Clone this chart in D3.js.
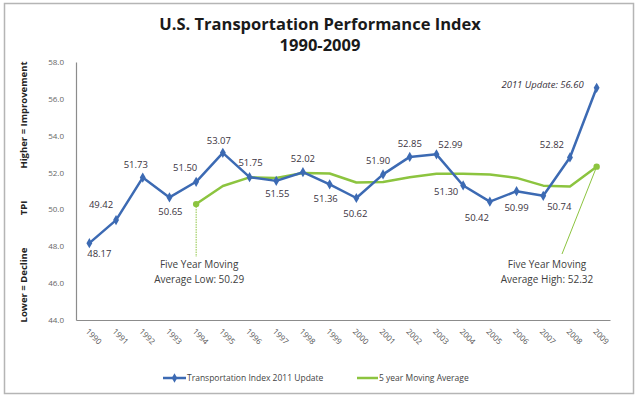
<!DOCTYPE html>
<html><head><meta charset="utf-8">
<script src="https://cdn.jsdelivr.net/npm/d3@7"></script>
<style>
html,body{margin:0;padding:0;background:#fff;}
svg{display:block;font-family:"Open Sans","Liberation Sans",sans-serif;}
</style></head>
<body>
<svg id="chart" width="639" height="399"></svg>
<script>
const years = ["1990","1991","1992","1993","1994","1995","1996","1997","1998","1999","2000","2001","2002","2003","2004","2005","2006","2007","2008","2009"];
const tpi = [48.17,49.42,51.73,50.65,51.50,53.07,51.75,51.55,52.02,51.36,50.62,51.90,52.85,52.99,51.30,50.42,50.99,50.74,52.82,56.60];
const movingAvg = [null,null,null,null,50.29,51.27,51.74,51.70,51.98,51.95,51.46,51.49,51.75,51.94,51.93,51.89,51.71,51.29,51.25,52.32];
const yTicks = [44,46,48,50,52,54,56,58];
const seriesNames = ["Transportation Index 2011 Update","5 year Moving Average"];
// label placement per point: [dx, dy] offset of label centre from point
const labelPlace = [[10,11],[-15,-15],[-7,-13],[1,14],[-11,-14],[-4,-12],[1,-15],[1,13],[0,-14],[-4,14],[-1,16],[-5,-14],[0,-13],[14,-10],[-17,6],[-13,16],[0,16],[16,11],[-18,-13],[0,0]];

const svg = d3.select("#chart");
const blue = "#3c6ab3", green = "#8cc43f";

// frame
svg.append("rect").attr("x",4.5).attr("y",3.5).attr("width",629).attr("height",390)
  .attr("fill","#fff").attr("stroke","#b5b5b5").attr("stroke-width",1.5);

const x = d3.scaleBand().domain(years).range([76,610]);
const y = d3.scaleLinear().domain([44,58]).range([320,62]);
const cx = d => x(d) + x.bandwidth()/2;

// title
svg.append("text").attr("x",320).attr("y",30).attr("text-anchor","middle")
  .attr("font-size",16.5).attr("font-weight","bold").attr("fill","#1a1a1a")
  .text("U.S. Transportation Performance Index");
svg.append("text").attr("x",320).attr("y",51).attr("text-anchor","middle")
  .attr("font-size",16.5).attr("font-weight","bold").attr("fill","#1a1a1a")
  .text("1990-2009");

// y axis
const yAxis = d3.axisLeft(y).tickValues(yTicks).tickFormat(d3.format(".1f")).tickSize(0).tickPadding(12);
const gy = svg.append("g").attr("transform","translate(76,0)").call(yAxis);
gy.select(".domain").attr("stroke","#8c8c8c").attr("stroke-width",1.2);
gy.selectAll("text").attr("font-size",8).attr("fill","#666").attr("font-family","Open Sans, sans-serif");

// x axis
const xAxis = d3.axisBottom(x).tickSize(0).tickPadding(0);
const gx = svg.append("g").attr("transform","translate(0,320)").call(xAxis);
gx.select(".domain").attr("stroke","#8c8c8c").attr("stroke-width",1.2);
gx.selectAll("text").attr("font-size",8).attr("fill","#555").attr("font-family","Open Sans, sans-serif")
  .attr("text-anchor","start").attr("dy",0)
  .attr("transform","translate(-4,12) rotate(45)");

// y side labels
const sideLabels = [["Higher = Improvement",115],["TPI",208],["Lower = Decline",285]];
svg.selectAll(".side").data(sideLabels).enter().append("text")
  .attr("transform",d=>`translate(27,${d[1]}) rotate(-90)`)
  .attr("text-anchor","middle").attr("font-size",9.5).attr("font-weight","bold").attr("fill","#222")
  .text(d=>d[0]);

// moving average line
const maData = years.map((yr,i)=>({yr,v:movingAvg[i]})).filter(d=>d.v!==null);
svg.append("path").datum(maData)
  .attr("d",d3.line().x(d=>cx(d.yr)).y(d=>y(d.v)))
  .attr("fill","none").attr("stroke",green).attr("stroke-width",2.5).attr("stroke-linejoin","round");
[maData[0],maData[maData.length-1]].forEach(d=>{
  svg.append("circle").attr("cx",cx(d.yr)).attr("cy",y(d.v)).attr("r",3.2).attr("fill",green);
});

// tpi line
const tData = years.map((yr,i)=>({yr,v:tpi[i],i}));
svg.append("path").datum(tData)
  .attr("d",d3.line().x(d=>cx(d.yr)).y(d=>y(d.v)))
  .attr("fill","none").attr("stroke",blue).attr("stroke-width",2.5).attr("stroke-linejoin","round");
svg.selectAll(".mk").data(tData).enter().append("path")
  .attr("transform",d=>`translate(${cx(d.yr)},${y(d.v)})`)
  .attr("d",d3.symbol(d3.symbolDiamond,30)).attr("fill",blue);

// data labels
svg.selectAll(".lbl").data(tData.slice(0,19)).enter().append("text")
  .attr("x",d=>cx(d.yr)+labelPlace[d.i][0]).attr("y",d=>y(d.v)+labelPlace[d.i][1])
  .attr("dy","0.35em").attr("text-anchor","middle").attr("font-size",9.5).attr("fill","#3a3340")
  .text(d=>d3.format(".2f")(d.v));
const last = tData[19];
svg.append("text").attr("x",cx(last.yr)-13).attr("y",y(last.v)-3).attr("dy","0.35em")
  .attr("text-anchor","end").attr("font-size",9.5).attr("font-style","italic").attr("fill","#3a3340")
  .text("2011 Update: " + d3.format(".2f")(last.v));

// moving average annotations
const lo = maData[0], hi = maData[maData.length-1];
svg.append("line").attr("x1",cx(lo.yr)).attr("y1",y(lo.v)).attr("x2",cx(lo.yr)).attr("y2",257)
  .attr("stroke",green).attr("stroke-width",1).attr("stroke-dasharray","1.5,1");
svg.append("line").attr("x1",cx(hi.yr)).attr("y1",y(hi.v)).attr("x2",562).attr("y2",254)
  .attr("stroke",green).attr("stroke-width",1);
const ann = [[cx(lo.yr)+3,["Five Year Moving","Average Low:  " + d3.format(".2f")(lo.v)]],
             [547,["Five Year Moving","Average High:  " + d3.format(".2f")(hi.v)]]];
ann.forEach(a=>{
  a[1].forEach((t,k)=>{
    svg.append("text").attr("x",a[0]).attr("y",264+k*15).attr("dy","0.35em").attr("text-anchor","middle")
      .attr("font-size",10).attr("fill","#404040").text(t);
  });
});

// legend
const lg = svg.append("g").attr("transform","translate(0,378)");
lg.append("line").attr("x1",163).attr("x2",186).attr("stroke",blue).attr("stroke-width",2.5);
lg.append("path").attr("transform","translate(174.5,0)").attr("d",d3.symbol(d3.symbolDiamond,26)).attr("fill",blue);
lg.append("text").attr("x",187).attr("dy","0.35em").attr("font-size",8.5).attr("fill","#444").text(seriesNames[0]);
lg.append("line").attr("x1",357).attr("x2",378).attr("stroke",green).attr("stroke-width",2.5);
lg.append("text").attr("x",379).attr("dy","0.35em").attr("font-size",8.5).attr("fill","#444").text(seriesNames[1]);
</script>
</body></html>
